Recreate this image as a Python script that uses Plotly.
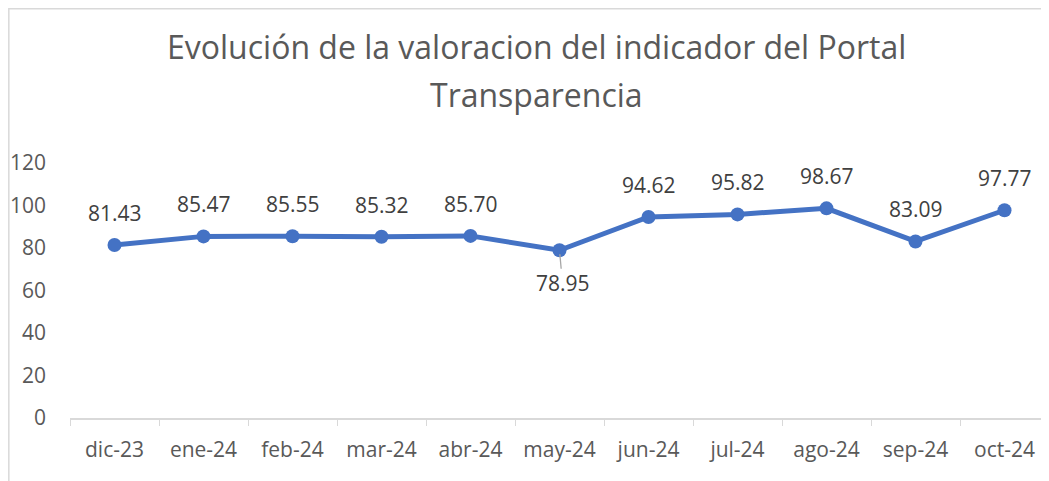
import plotly.graph_objects as go

months = ["dic-23", "ene-24", "feb-24", "mar-24", "abr-24", "may-24",
          "jun-24", "jul-24", "ago-24", "sep-24", "oct-24"]
valores = [81.43, 85.47, 85.55, 85.32, 85.70, 78.95,
           94.62, 95.82, 98.67, 83.09, 97.77]
y_ticks = [0, 20, 40, 60, 80, 100, 120]
title_lines = ["Evolución de la valoracion del indicador del Portal", "Transparencia"]

FONT = "Open Sans"
BLUE = "#4472C4"
GRAY = "#595959"

fig = go.Figure(go.Scatter(
    x=months,
    y=valores,
    mode="lines+markers",
    line=dict(color=BLUE, width=5),
    marker=dict(color=BLUE, size=14),
    hoverinfo="skip",
))

# data labels, the low one (may-24) goes below with a leader line
for m, v in zip(months, valores):
    below = v == min(valores)
    if below:
        fig.add_annotation(x=m, y=v, text=f"{v:.2f}", showarrow=True,
                           ax=3, ay=33, arrowhead=0, arrowwidth=1.3,
                           arrowcolor="#a6a6a6", standoff=4, borderpad=0,
                           font=dict(family=FONT, size=21, color="#404040"))
    else:
        fig.add_annotation(x=m, y=v, text=f"{v:.2f}", showarrow=False,
                           yshift=32, font=dict(family=FONT, size=21, color="#404040"))

# page has an 8px body margin, so figure is shifted by 8px; plot area is 979x255
for line, ypos in zip(title_lines, [1.455, 1.267]):
    fig.add_annotation(xref="paper", yref="paper", x=0.476, y=ypos, text=line,
                       showarrow=False, xanchor="center", yanchor="middle",
                       font=dict(family=FONT, size=32, color=GRAY))

# chart frame
fig.add_shape(type="rect", xref="paper", yref="paper",
              x0=-0.0625, x1=1.2, y0=-0.4, y1=1.605,
              line=dict(color="#d9d9d9", width=1.5), layer="below")

fig.update_xaxes(
    type="category", range=[-0.5, 10.5], automargin=False,
    showline=True, linecolor="#d9d9d9", linewidth=1.5,
    ticks="outside", tickson="boundaries", ticklen=6, tickcolor="#d9d9d9",
    ticklabelstandoff=12,
    tickfont=dict(family=FONT, size=21, color=GRAY),
    showgrid=False, zeroline=False,
)
fig.update_yaxes(
    range=[0, 120], tickvals=y_ticks, showgrid=False, zeroline=False,
    showline=False, ticklabelstandoff=23, automargin=False,
    tickfont=dict(family=FONT, size=21, color=GRAY),
)
fig.update_layout(
    width=1041, height=473,
    margin=dict(l=62, r=0, t=155, b=63),
    paper_bgcolor="white", plot_bgcolor="white",
    showlegend=False,
)

fig.write_html("out.html")
